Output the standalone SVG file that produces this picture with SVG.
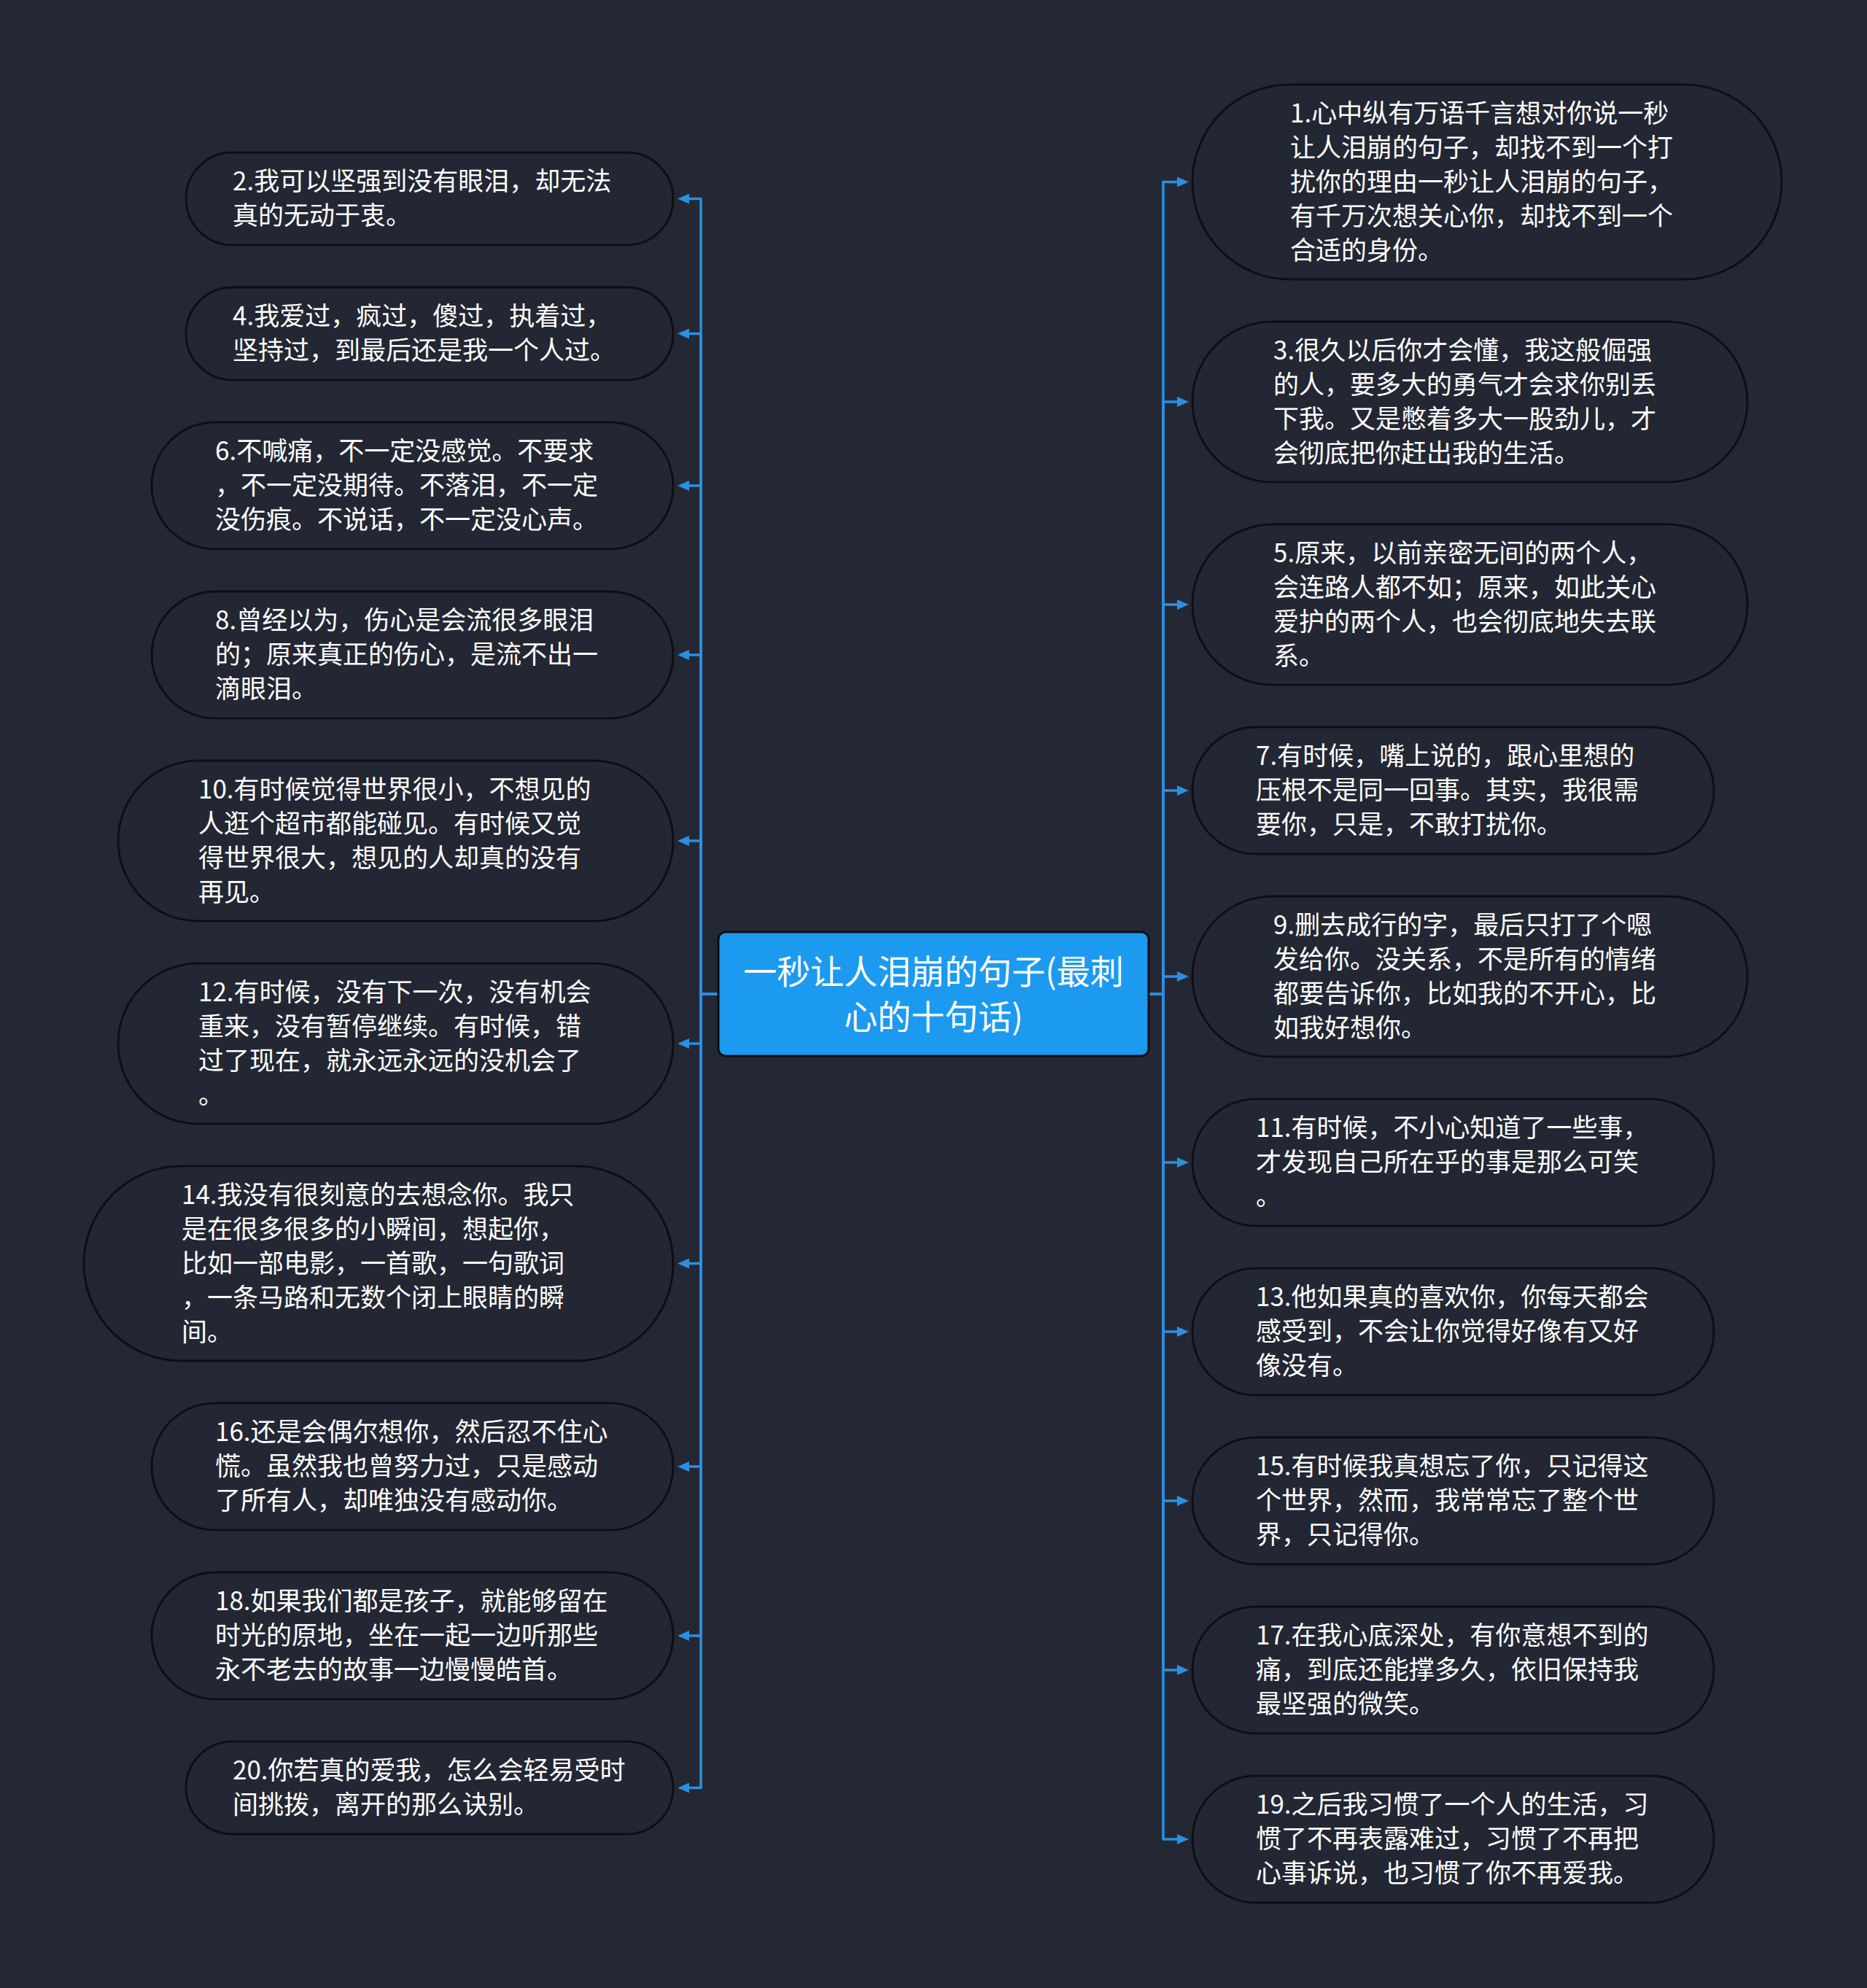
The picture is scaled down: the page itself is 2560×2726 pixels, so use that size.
<svg xmlns="http://www.w3.org/2000/svg" width="2560" height="2726" viewBox="0 0 2560 2726">
<style>
.bg{fill:#242834}
.node rect{fill:#232733;stroke:#0d0f14;stroke-width:3}
.t{font-family:"Noto Sans CJK SC","Noto Sans",sans-serif;font-size:35px;fill:#ffffff}
.ct{font-family:"Noto Sans CJK SC","Noto Sans",sans-serif;font-size:46px;fill:#ffffff;text-anchor:middle}
.edge{fill:none;stroke:#2a90e2;stroke-width:3.5;stroke-linejoin:round}
</style>
<defs>
<marker id="arr" viewBox="0 0 16 14" refX="7" refY="7" markerWidth="16" markerHeight="14" markerUnits="userSpaceOnUse" orient="auto">
<path d="M0,0 L16,7 L0,14 z" fill="#2a90e2"/>
</marker>
</defs>
<rect class="bg" x="0" y="0" width="2560" height="2726"/>

<g id="connectors">
<path class="edge" marker-end="url(#arr)" d="M985,1363 H961 V272.5 H938"/>
<path class="edge" marker-end="url(#arr)" d="M985,1363 H961 V457.5 H938"/>
<path class="edge" marker-end="url(#arr)" d="M985,1363 H961 V666 H938"/>
<path class="edge" marker-end="url(#arr)" d="M985,1363 H961 V898 H938"/>
<path class="edge" marker-end="url(#arr)" d="M985,1363 H961 V1153 H938"/>
<path class="edge" marker-end="url(#arr)" d="M985,1363 H961 V1431 H938"/>
<path class="edge" marker-end="url(#arr)" d="M985,1363 H961 V1732.5 H938"/>
<path class="edge" marker-end="url(#arr)" d="M985,1363 H961 V2011 H938"/>
<path class="edge" marker-end="url(#arr)" d="M985,1363 H961 V2243 H938"/>
<path class="edge" marker-end="url(#arr)" d="M985,1363 H961 V2451.5 H938"/>
<path class="edge" marker-end="url(#arr)" d="M1575,1363 H1595 V249.5 H1621"/>
<path class="edge" marker-end="url(#arr)" d="M1575,1363 H1595 V551 H1621"/>
<path class="edge" marker-end="url(#arr)" d="M1575,1363 H1595 V829 H1621"/>
<path class="edge" marker-end="url(#arr)" d="M1575,1363 H1595 V1084 H1621"/>
<path class="edge" marker-end="url(#arr)" d="M1575,1363 H1595 V1339 H1621"/>
<path class="edge" marker-end="url(#arr)" d="M1575,1363 H1595 V1594 H1621"/>
<path class="edge" marker-end="url(#arr)" d="M1575,1363 H1595 V1826 H1621"/>
<path class="edge" marker-end="url(#arr)" d="M1575,1363 H1595 V2058 H1621"/>
<path class="edge" marker-end="url(#arr)" d="M1575,1363 H1595 V2290 H1621"/>
<path class="edge" marker-end="url(#arr)" d="M1575,1363 H1595 V2522 H1621"/>
</g>

<g id="center">
<rect x="985" y="1278" width="590" height="170" rx="10" fill="#1c9af0" stroke="#0d0f14" stroke-width="3"/>
<text class="ct"><tspan x="1280" y="1349">一秒让人泪崩的句子(最刺</tspan><tspan x="1280" y="1411">心的十句话)</tspan></text>
</g>

<g id="n2" class="node"><rect x="255" y="209" width="668" height="127" rx="63.5"/>
<text class="t"><tspan x="319" y="261">2.我可以坚强到没有眼泪，却无法</tspan><tspan x="319" y="308">真的无动于衷。</tspan></text></g>

<g id="n4" class="node"><rect x="255" y="394" width="668" height="127" rx="63.5"/>
<text class="t"><tspan x="319" y="446">4.我爱过，疯过，傻过，执着过，</tspan><tspan x="319" y="493">坚持过，到最后还是我一个人过。</tspan></text></g>

<g id="n6" class="node"><rect x="208" y="579" width="715" height="174" rx="87"/>
<text class="t"><tspan x="295" y="631">6.不喊痛，不一定没感觉。不要求</tspan><tspan x="295" y="678">，不一定没期待。不落泪，不一定</tspan><tspan x="295" y="725">没伤痕。不说话，不一定没心声。</tspan></text></g>

<g id="n8" class="node"><rect x="208" y="811" width="715" height="174" rx="87"/>
<text class="t"><tspan x="295" y="863">8.曾经以为，伤心是会流很多眼泪</tspan><tspan x="295" y="910">的；原来真正的伤心，是流不出一</tspan><tspan x="295" y="957">滴眼泪。</tspan></text></g>

<g id="n10" class="node"><rect x="162" y="1043" width="761" height="220" rx="110"/>
<text class="t"><tspan x="272" y="1094.5">10.有时候觉得世界很小，不想见的</tspan><tspan x="272" y="1141.5">人逛个超市都能碰见。有时候又觉</tspan><tspan x="272" y="1188.5">得世界很大，想见的人却真的没有</tspan><tspan x="272" y="1235.5">再见。</tspan></text></g>

<g id="n12" class="node"><rect x="162" y="1321" width="761" height="220" rx="110"/>
<text class="t"><tspan x="272" y="1372.5">12.有时候，没有下一次，没有机会</tspan><tspan x="272" y="1419.5">重来，没有暂停继续。有时候，错</tspan><tspan x="272" y="1466.5">过了现在，就永远永远的没机会了</tspan><tspan x="272" y="1513.5">。</tspan></text></g>

<g id="n14" class="node"><rect x="115" y="1599" width="808" height="267" rx="133.5"/>
<text class="t"><tspan x="249" y="1650.5">14.我没有很刻意的去想念你。我只</tspan><tspan x="249" y="1697.5">是在很多很多的小瞬间，想起你，</tspan><tspan x="249" y="1744.5">比如一部电影，一首歌，一句歌词</tspan><tspan x="249" y="1791.5">，一条马路和无数个闭上眼睛的瞬</tspan><tspan x="249" y="1838.5">间。</tspan></text></g>

<g id="n16" class="node"><rect x="208" y="1924" width="715" height="174" rx="87"/>
<text class="t"><tspan x="295" y="1976">16.还是会偶尔想你，然后忍不住心</tspan><tspan x="295" y="2023">慌。虽然我也曾努力过，只是感动</tspan><tspan x="295" y="2070">了所有人，却唯独没有感动你。</tspan></text></g>

<g id="n18" class="node"><rect x="208" y="2156" width="715" height="174" rx="87"/>
<text class="t"><tspan x="295" y="2208">18.如果我们都是孩子，就能够留在</tspan><tspan x="295" y="2255">时光的原地，坐在一起一边听那些</tspan><tspan x="295" y="2302">永不老去的故事一边慢慢皓首。</tspan></text></g>

<g id="n20" class="node"><rect x="255" y="2388" width="668" height="127" rx="63.5"/>
<text class="t"><tspan x="319" y="2440">20.你若真的爱我，怎么会轻易受时</tspan><tspan x="319" y="2487">间挑拨，离开的那么诀别。</tspan></text></g>

<g id="n1" class="node"><rect x="1635" y="116" width="808" height="267" rx="133.5"/>
<text class="t"><tspan x="1769" y="167.5">1.心中纵有万语千言想对你说一秒</tspan><tspan x="1769" y="214.5">让人泪崩的句子，却找不到一个打</tspan><tspan x="1769" y="261.5">扰你的理由一秒让人泪崩的句子，</tspan><tspan x="1769" y="308.5">有千万次想关心你，却找不到一个</tspan><tspan x="1769" y="355.5">合适的身份。</tspan></text></g>

<g id="n3" class="node"><rect x="1635" y="441" width="761" height="220" rx="110"/>
<text class="t"><tspan x="1746" y="492.5">3.很久以后你才会懂，我这般倔强</tspan><tspan x="1746" y="539.5">的人，要多大的勇气才会求你别丢</tspan><tspan x="1746" y="586.5">下我。又是憋着多大一股劲儿，才</tspan><tspan x="1746" y="633.5">会彻底把你赶出我的生活。</tspan></text></g>

<g id="n5" class="node"><rect x="1635" y="719" width="761" height="220" rx="110"/>
<text class="t"><tspan x="1746" y="770.5">5.原来，以前亲密无间的两个人，</tspan><tspan x="1746" y="817.5">会连路人都不如；原来，如此关心</tspan><tspan x="1746" y="864.5">爱护的两个人，也会彻底地失去联</tspan><tspan x="1746" y="911.5">系。</tspan></text></g>

<g id="n7" class="node"><rect x="1635" y="997" width="715" height="174" rx="87"/>
<text class="t"><tspan x="1722" y="1049">7.有时候，嘴上说的，跟心里想的</tspan><tspan x="1722" y="1096">压根不是同一回事。其实，我很需</tspan><tspan x="1722" y="1143">要你，只是，不敢打扰你。</tspan></text></g>

<g id="n9" class="node"><rect x="1635" y="1229" width="761" height="220" rx="110"/>
<text class="t"><tspan x="1746" y="1280.5">9.删去成行的字，最后只打了个嗯</tspan><tspan x="1746" y="1327.5">发给你。没关系，不是所有的情绪</tspan><tspan x="1746" y="1374.5">都要告诉你，比如我的不开心，比</tspan><tspan x="1746" y="1421.5">如我好想你。</tspan></text></g>

<g id="n11" class="node"><rect x="1635" y="1507" width="715" height="174" rx="87"/>
<text class="t"><tspan x="1722" y="1559">11.有时候，不小心知道了一些事，</tspan><tspan x="1722" y="1606">才发现自己所在乎的事是那么可笑</tspan><tspan x="1722" y="1653">。</tspan></text></g>

<g id="n13" class="node"><rect x="1635" y="1739" width="715" height="174" rx="87"/>
<text class="t"><tspan x="1722" y="1791">13.他如果真的喜欢你，你每天都会</tspan><tspan x="1722" y="1838">感受到，不会让你觉得好像有又好</tspan><tspan x="1722" y="1885">像没有。</tspan></text></g>

<g id="n15" class="node"><rect x="1635" y="1971" width="715" height="174" rx="87"/>
<text class="t"><tspan x="1722" y="2023">15.有时候我真想忘了你，只记得这</tspan><tspan x="1722" y="2070">个世界，然而，我常常忘了整个世</tspan><tspan x="1722" y="2117">界，只记得你。</tspan></text></g>

<g id="n17" class="node"><rect x="1635" y="2203" width="715" height="174" rx="87"/>
<text class="t"><tspan x="1722" y="2255">17.在我心底深处，有你意想不到的</tspan><tspan x="1722" y="2302">痛，到底还能撑多久，依旧保持我</tspan><tspan x="1722" y="2349">最坚强的微笑。</tspan></text></g>

<g id="n19" class="node"><rect x="1635" y="2435" width="715" height="174" rx="87"/>
<text class="t"><tspan x="1722" y="2487">19.之后我习惯了一个人的生活，习</tspan><tspan x="1722" y="2534">惯了不再表露难过，习惯了不再把</tspan><tspan x="1722" y="2581">心事诉说，也习惯了你不再爱我。</tspan></text></g>
</svg>
